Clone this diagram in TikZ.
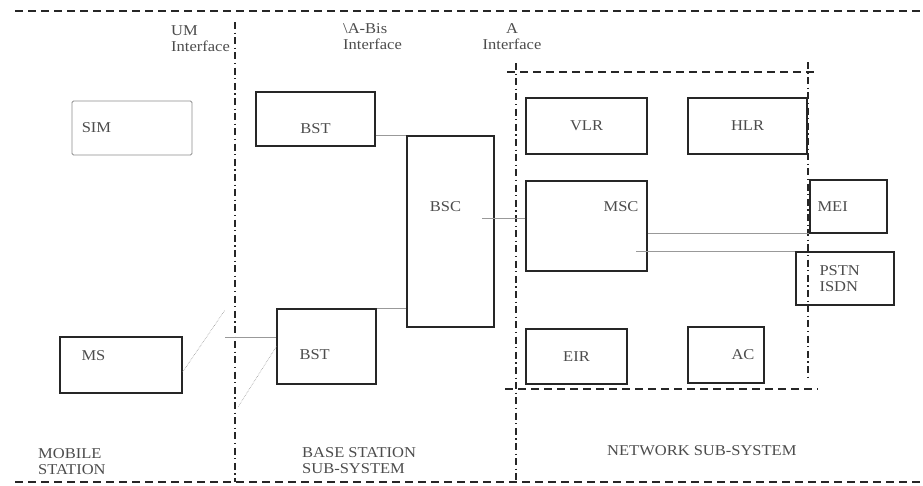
\documentclass[tikz,border=0pt]{standalone}
\usepackage{fontspec}
\setmainfont{Liberation Serif}[FakeStretch=1.1]
\usetikzlibrary{positioning, calc}

\begin{document}
\begin{tikzpicture}[
        x=1pt, y=-1pt,
        box/.style={rectangle, draw=black!85, line width=1.3pt, inner sep=0pt, text=black!70, font=\fontsize{15}{16}\selectfont},
        txt/.style={inner sep=0pt, text=black!70, font=\fontsize{15}{16}\selectfont, align=left},
        border/.style={line width=1.3pt, black!85, dash pattern=on 8pt off 5pt},
        iface/.style={line width=1.3pt, black!85, dash pattern=on 7pt off 3.5pt on 1.2pt off 3.5pt},
        link/.style={black!40, line width=0.6pt},
        radio/.style={black!40, line width=0.6pt, densely dotted}
    ]
    \useasboundingbox (0,0) rectangle (923,485);

    % frame and interfaces
    \draw[border] (15,11) -- (923,11);
    \draw[border] (15,482) -- (923,482);
    \draw[iface] (235,22) -- (235,482);
    \draw[iface] (516,63) -- (516,482);
    \draw[border] (507,72) -- (818,72);
    \draw[border] (505,389) -- (818,389);
    \draw[iface] (808,62) -- (808,380);

    % interface labels
    \node[txt, anchor=west] (umlbl) at (171,39) {UM\\Interface};
    \node[txt, anchor=west] (abislbl) at (343,37) {\textbackslash A-Bis\\Interface};
    \node[txt, align=center] (albl) at (512,37) {A\\Interface};

    % mobile station
    \node[box, minimum width=120pt, minimum height=54pt, draw=black!45, line width=0.8pt, rounded corners=1.5pt,
          label={[txt, anchor=west, xshift=10pt]west:SIM}] (sim) at (132,128) {};
    \node[box, minimum width=122pt, minimum height=56pt,
          label={[txt, anchor=west, xshift=22pt, yshift=9pt]west:MS}] (ms) at (121,365) {};

    % base station sub-system
    \node[box, minimum width=119pt, minimum height=54pt,
          label={[txt, anchor=center, yshift=18pt]south:BST}] (bst1) at (315.5,119) {};
    \node[box, minimum width=99pt, minimum height=75pt,
          label={[txt, anchor=west, xshift=23pt, yshift=-8pt]west:BST}] (bst2) at (326.5,346.5) {};
    \node[box, minimum width=87pt, minimum height=191pt,
          label={[txt, anchor=center, xshift=-5pt, yshift=-71pt]north:BSC}] (bsc) at (450.5,231.5) {};

    % network sub-system
    \node[box, minimum width=121pt, minimum height=56pt] (vlr) at (586.5,126) {VLR};
    \node[box, minimum width=119pt, minimum height=56pt] (hlr) at (747.5,126) {HLR};
    \node[box, minimum width=121pt, minimum height=90pt,
          label={[txt, anchor=east, xshift=-9pt, yshift=-26pt]north east:MSC}] (msc) at (586.5,226) {};
    \node[box, minimum width=101pt, minimum height=55pt] (eir) at (576.5,356.5) {EIR};
    \node[box, minimum width=76pt, minimum height=56pt,
          label={[txt, anchor=east, xshift=-10pt]east:AC}] (ac) at (726,355) {};
    \node[box, minimum width=77pt, minimum height=53pt,
          label={[txt, anchor=west, xshift=8pt]west:MEI}] (mei) at (848.5,206.5) {};
    \node[box, minimum width=98pt, minimum height=53pt,
          label={[txt, anchor=west, xshift=24pt]west:{PSTN\\ISDN}}] (pstn) at (845,278.5) {};

    % subsystem labels
    \node[txt, anchor=west] (mslbl) at (38,462) {MOBILE\\STATION};
    \node[txt, anchor=west] (bsslbl) at (302,461) {BASE STATION\\SUB-SYSTEM};
    \node[txt, anchor=west] (nsslbl) at (607,451) {NETWORK SUB-SYSTEM};

    % radio path
    \coordinate (msant) at (225,310);
    \coordinate (umpt) at (225,337);
    \coordinate (bstant) at (238,407);

    % links
    \draw[radio] ([yshift=-7pt]ms.east) -- (msant);
    \draw[link] (umpt) -- (umpt -| bst2.west);
    \draw[radio] (bst2.west) -- (bstant);
    \draw[link] (bst1.east |- bsc.north west) -- (bsc.north west);
    \draw[link] (bst2.north east) -- (bst2.north east -| bsc.west);
    \draw[link] ([yshift=8pt]msc.west) -- ++(-43,0);
    \draw[link] (mei.south west) -- (mei.south west -| msc.east);
    \draw[link] (pstn.north west) -- ++(-159,0);
\end{tikzpicture}
\end{document}
